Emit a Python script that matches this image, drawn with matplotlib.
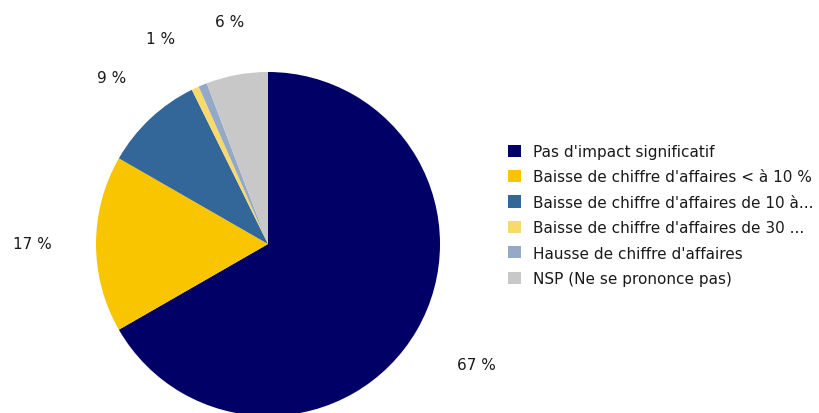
import numpy as np
import matplotlib
matplotlib.use("Agg")
import matplotlib.pyplot as plt
from matplotlib.patches import Patch

categories = [
    "Pas d'impact significatif",
    "Baisse de chiffre d'affaires < à 10 %",
    "Baisse de chiffre d'affaires de 10 à...",
    "Baisse de chiffre d'affaires de 30 ...",
    "Hausse de chiffre d'affaires",
    "NSP (Ne se prononce pas)",
]
values = [66.7, 16.6, 9.4, 0.7, 0.8, 5.8]
labels = ["67 %", "17 %", "9 %", "1 %", "", "6 %"]
colors = ["#000066", "#F8C500", "#336699", "#F8DA6C", "#94A8C8", "#C8C8C8"]

W, H = 820, 414
fig = plt.figure(figsize=(W / 100, H / 100), dpi=100)
ax = fig.add_axes([0, 0, 1, 1])

cx, cy, R = 268, H - 245, 172
wedges, _ = ax.pie(values, colors=colors, startangle=90, counterclock=False,
                   center=(cx, cy), radius=R, frame=True,
                   wedgeprops=dict(linewidth=0))
ax.set_xlim(0, W)
ax.set_ylim(0, H)
ax.set_aspect("equal")
ax.axis("off")

# label placement: radial distance factor and angle nudge per slice
label_dist = [1.40, 1.37, 1.33, 1.35, 1.35, 1.31]
label_nudge = [0, 0, 0, 2.5, 0, -0.7]
for w, lab, d, nd in zip(wedges, labels, label_dist, label_nudge):
    if not lab:
        continue
    th = np.deg2rad((w.theta1 + w.theta2) / 2 + nd)
    ax.text(cx + R * d * np.cos(th), cy + R * d * np.sin(th), lab,
            ha="center", va="center", fontsize=11, color="#1a1a1a")

handles = [Patch(facecolor=c, edgecolor="none") for c in colors]
leg = fig.legend(handles, categories, loc="upper left",
                 bbox_to_anchor=(508 / W, 1 - 145 / H), frameon=False,
                 fontsize=11, handlelength=0.85, handleheight=0.85,
                 handletextpad=0.8, labelspacing=0.68, borderpad=0,
                 borderaxespad=0)
for t in leg.get_texts():
    t.set_color("#1a1a1a")

fig.savefig("out.png", dpi=100, facecolor="white")
